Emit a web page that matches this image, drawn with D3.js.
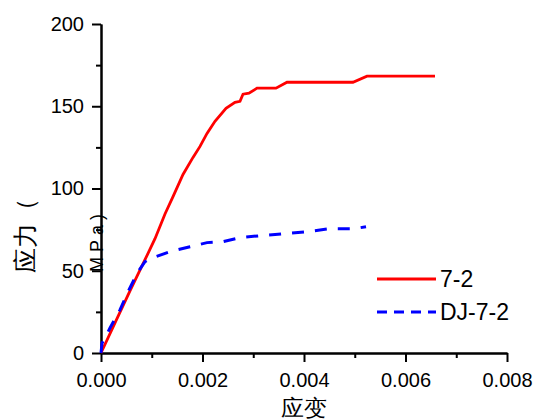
<!DOCTYPE html>
<html>
<head>
<meta charset="utf-8">
<script src="https://cdn.jsdelivr.net/npm/d3@7"></script>
<style>
  body { margin: 0; background: #fff; }
  text { font-family: "Liberation Sans", Arial, sans-serif; }
</style>
</head>
<body>
<div id="myChart"></div>
<script>
// 7-2 test curve (strain, stress MPa)
var strain72 = [0, 0.000276, 0.000571, 0.000867, 0.001064, 0.001261, 0.001419, 0.001616, 0.001813, 0.001951,
  0.002089, 0.002246, 0.002463, 0.002640, 0.002739, 0.002798, 0.002916, 0.003074, 0.003448, 0.003665,
  0.004965, 0.005241, 0.006581];
var stress72 = [0, 18.3, 37.8, 56.7, 69.5, 84.5, 95.1, 108.5, 118.9, 125.6,
  133.5, 140.9, 148.8, 152.4, 153.0, 157.3, 157.9, 161.0, 161.0, 164.6,
  164.6, 168.3, 168.3];

// DJ-7-2 curve
var strainDJ = [0, 0.00002, 0.000079, 0.000177, 0.000374, 0.000532, 0.000729, 0.000867, 0.000965, 0.001360,
  0.001754, 0.002089, 0.002404, 0.002739, 0.003133, 0.003626, 0.004079, 0.004512, 0.005005, 0.005222];
var stressDJ = [0, 6, 9.1, 15.2, 26.2, 37.2, 49.4, 55.5, 57.3, 61.6,
  64.6, 67.1, 67.7, 70.1, 71.3, 72.6, 73.8, 75.6, 75.6, 76.8];

var xMajor = [0, 0.002, 0.004, 0.006, 0.008];
var xMinor = [0.001, 0.003, 0.005, 0.007];
var yMajor = [0, 50, 100, 150, 200];
var yMinor = [25, 75, 125, 175];
var seriesNames = ["7-2", "DJ-7-2"];

let svgWidth = 534;
let svgHeight = 420;
let margin = { top: 24, right: 27, bottom: 67, left: 101 };

let svg = d3.select("#myChart").append("svg")
  .attr("width", svgWidth)
  .attr("height", svgHeight);

var x = d3.scaleLinear().domain([0, 0.008]).range([margin.left, svgWidth - margin.right]);
var y = d3.scaleLinear().domain([0, 200]).range([svgHeight - margin.bottom, margin.top]);

function styleAxis(g) {
  g.selectAll("path, line").attr("stroke", "#000").attr("stroke-width", 2);
  g.selectAll("text").attr("font-size", 20).attr("fill", "#000");
}

// minor ticks first, then majors with labels
svg.append("g")
  .attr("transform", "translate(0," + y(0) + ")")
  .call(d3.axisBottom(x).tickValues(xMinor).tickSize(5).tickSizeOuter(0).tickFormat(""))
  .call(styleAxis);
svg.append("g")
  .attr("transform", "translate(0," + y(0) + ")")
  .call(d3.axisBottom(x).tickValues(xMajor).tickSize(9).tickSizeOuter(0).tickPadding(11).tickFormat(d3.format(".3f")))
  .call(styleAxis);

svg.append("g")
  .attr("transform", "translate(" + x(0) + ",0)")
  .call(d3.axisLeft(y).tickValues(yMinor).tickSize(5).tickSizeOuter(0).tickFormat(""))
  .call(styleAxis);
svg.append("g")
  .attr("transform", "translate(" + x(0) + ",0)")
  .call(d3.axisLeft(y).tickValues(yMajor).tickSize(9).tickSizeOuter(0).tickPadding(8))
  .call(styleAxis);

// curves
var line = d3.line()
  .x(function(d) { return x(d[0]); })
  .y(function(d) { return y(d[1]); });

svg.append("path")
  .datum(d3.zip(strain72, stress72))
  .attr("d", line)
  .attr("fill", "none")
  .attr("stroke", "#ff0000")
  .attr("stroke-width", 2.8);

svg.append("path")
  .datum(d3.zip(strainDJ, stressDJ))
  .attr("d", line)
  .attr("fill", "none")
  .attr("stroke", "#0000ff")
  .attr("stroke-width", 3)
  .attr("stroke-dasharray", "12,11");

// axis titles
svg.append("text")
  .attr("x", (x(0) + x(0.008)) / 2)
  .attr("y", 416)
  .attr("text-anchor", "middle")
  .attr("font-family", "Noto Sans CJK SC")
  .attr("font-size", 23)
  .text("应变");

svg.append("text")
  .attr("transform", "translate(25,273) rotate(-90)")
  .attr("dy", "0.36em")
  .attr("font-family", "Noto Sans CJK SC")
  .attr("font-size", 25)
  .text("应力（");

svg.append("text")
  .attr("transform", "translate(103,272) rotate(-90)")
  .attr("font-family", "Liberation Serif")
  .attr("font-size", 18)
  .attr("letter-spacing", 5)
  .text("MPa)");

// legend
var legend = svg.append("g");
var legendY = [279, 312];
legend.selectAll("line")
  .data(seriesNames)
  .enter()
  .append("line")
  .attr("x1", 377)
  .attr("x2", 436)
  .attr("y1", function(d, i) { return legendY[i]; })
  .attr("y2", function(d, i) { return legendY[i]; })
  .attr("stroke", function(d, i) { return i == 0 ? "#ff0000" : "#0000ff"; })
  .attr("stroke-width", 2.8)
  .attr("stroke-dasharray", function(d, i) { return i == 0 ? null : "10,7"; });
legend.selectAll("text")
  .data(seriesNames)
  .enter()
  .append("text")
  .attr("x", 440)
  .attr("y", function(d, i) { return legendY[i]; })
  .attr("dy", "0.36em")
  .attr("font-size", 23)
  .text(function(d) { return d; });
</script>
</body>
</html>
